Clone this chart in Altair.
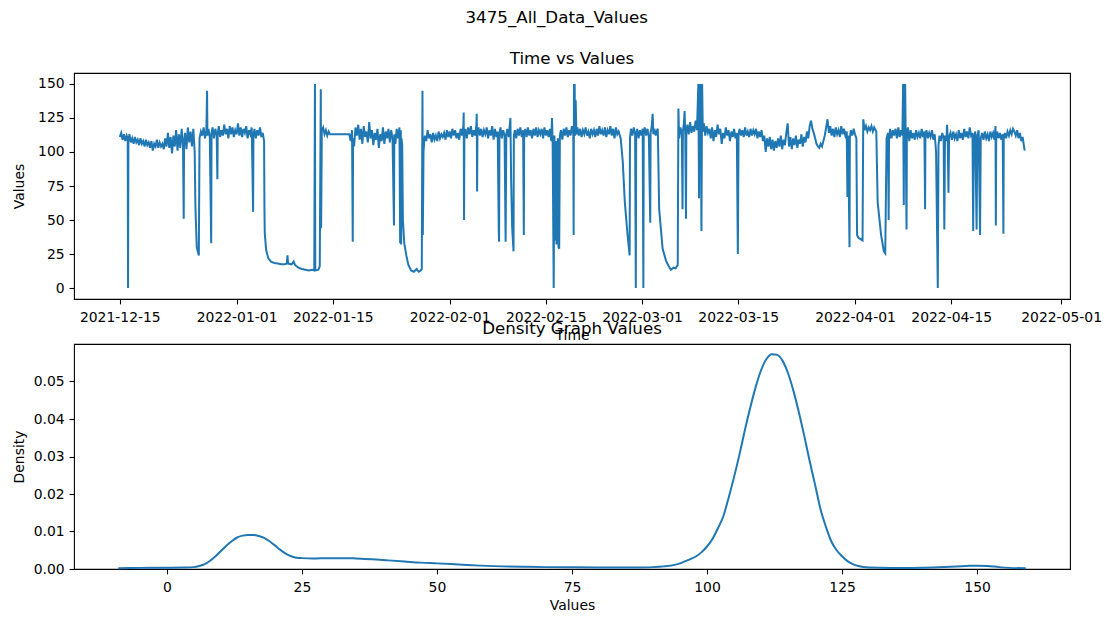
import altair as alt
import pandas as pd

# ---- time series: (days since 2021-12-15, value) ----
START = "2021-12-15"

DEC = [
    (0.0, 111), (0.2, 114), (0.4, 109), (0.6, 113), (0.8, 108), (1.0, 112), (1.15, 110), (1.2, 0),
    (1.25, 108), (1.4, 113), (1.6, 107), (1.8, 110), (2.0, 106), (2.2, 111), (2.4, 107), (2.6, 109),
    (2.8, 105), (3.0, 110), (3.2, 106), (3.4, 108), (3.6, 104), (3.8, 109), (4.0, 105), (4.2, 107),
    (4.4, 103), (4.6, 108), (4.8, 101), (5.0, 106), (5.2, 104), (5.4, 109), (5.6, 103), (5.8, 107),
    (6.0, 104), (6.2, 106), (6.4, 102), (6.6, 110), (6.8, 104), (7.0, 114), (7.2, 103), (7.4, 111),
    (7.6, 99), (7.8, 112), (8.0, 104), (8.2, 116), (8.4, 101), (8.6, 113), (8.8, 103), (9.0, 117),
    (9.2, 105), (9.3, 51), (9.35, 106), (9.5, 114), (9.7, 102), (9.9, 118), (10.1, 107), (10.3, 115),
    (10.5, 104), (10.7, 117), (10.9, 100), (11.0, 60), (11.2, 30), (11.5, 24), (11.6, 110), (11.8, 115),
    (12.0, 112), (12.2, 118), (12.4, 110), (12.6, 116), (12.7, 145), (12.75, 112), (12.9, 117),
    (13.1, 111), (13.3, 33), (13.35, 114), (13.5, 118), (13.7, 110), (13.9, 117), (14.1, 112),
    (14.2, 80), (14.25, 113), (14.4, 119), (14.6, 111), (14.8, 116), (15.0, 112), (15.2, 120),
    (15.4, 113), (15.6, 117), (15.8, 110), (16.0, 119), (16.2, 113), (16.4, 118), (16.6, 111), (16.8, 116),
]

JAN = [
    (17.0, 113), (17.2, 121), (17.4, 112), (17.6, 118), (17.8, 111), (18.0, 117), (18.2, 114),
    (18.4, 119), (18.6, 110), (18.8, 116), (19.0, 113), (19.2, 118), (19.4, 56), (19.45, 112),
    (19.6, 117), (19.8, 110), (20.0, 116), (20.2, 112), (20.4, 118), (20.6, 111), (20.8, 114),
    (21.0, 108), (21.05, 58), (21.1, 40), (21.3, 28), (21.6, 22), (22.0, 19.5), (22.5, 18.5),
    (23.0, 18), (23.5, 17.5), (24.0, 17.5), (24.3, 18), (24.4, 24), (24.5, 18), (25.0, 17.5),
    (25.3, 19.5), (25.5, 17), (26.0, 15), (26.5, 14), (27.0, 13.5), (27.5, 13), (28.0, 13.5),
    (28.3, 13), (28.4, 150), (28.45, 13), (28.9, 13.5), (29.1, 16), (29.25, 146), (29.3, 44),
    (29.4, 116), (29.6, 118), (29.8, 113), (30.0, 116), (30.2, 112), (30.4, 115), (30.6, 113),
    (30.8, 113), (33.4, 113), (33.6, 108), (33.8, 116), (33.9, 34), (33.95, 110), (34.1, 104),
    (34.3, 118), (34.5, 112), (34.7, 120), (34.9, 109), (35.1, 117), (35.3, 106), (35.5, 119),
    (35.7, 111), (35.9, 115), (36.1, 107), (36.3, 122), (36.5, 110), (36.7, 116), (36.9, 105),
    (37.1, 114), (37.3, 109), (37.5, 117), (37.7, 103), (37.9, 113), (38.1, 108), (38.3, 118),
    (38.5, 106), (38.7, 115), (38.9, 110), (39.1, 117), (39.3, 107), (39.5, 116), (39.7, 109),
    (39.9, 46), (39.95, 113), (40.1, 106), (40.3, 117), (40.5, 110), (40.7, 118), (40.8, 33),
    (40.85, 112), (40.9, 116), (40.95, 32), (41.0, 110), (41.1, 105), (41.2, 50), (41.4, 33),
    (41.7, 24), (42.0, 17), (42.4, 13), (42.8, 12), (43.2, 14), (43.5, 12), (43.8, 13), (43.95, 14),
    (44.05, 145), (44.1, 39), (44.2, 100), (44.3, 108), (44.4, 112), (44.6, 108), (44.8, 116),
    (45.0, 110), (45.2, 113), (45.4, 107), (45.6, 114), (45.8, 109), (46.0, 112), (46.2, 108),
    (46.4, 115), (46.6, 110), (46.8, 113), (47.0, 111), (47.2, 114), (47.4, 109), (47.6, 116),
]

FEB = [
    (47.8, 111), (48.0, 115), (48.2, 110), (48.4, 117), (48.6, 112), (48.8, 116), (49.0, 110),
    (49.2, 114), (49.4, 109), (49.6, 117), (49.8, 112), (50.0, 119), (50.05, 129), (50.1, 50),
    (50.15, 112), (50.3, 117), (50.5, 110), (50.7, 118), (50.9, 113), (51.1, 119), (51.3, 111),
    (51.5, 116), (51.7, 112), (51.9, 120), (51.95, 128), (52.0, 71), (52.05, 113), (52.2, 118),
    (52.4, 112), (52.6, 117), (52.8, 111), (53.0, 116), (53.2, 113), (53.4, 118), (53.6, 110),
    (53.8, 116), (54.0, 112), (54.2, 119), (54.4, 109), (54.6, 117), (54.8, 111), (55.0, 115),
    (55.15, 43), (55.2, 34), (55.25, 112), (55.4, 118), (55.6, 110), (55.8, 116), (56.0, 112),
    (56.15, 34), (56.25, 113), (56.4, 117), (56.6, 111), (56.85, 125), (56.95, 80), (57.1, 45),
    (57.3, 27), (57.35, 112), (57.5, 116), (57.7, 110), (57.9, 117), (58.1, 112), (58.3, 118),
    (58.5, 111), (58.7, 116), (58.8, 39), (58.85, 113), (59.0, 117), (59.2, 111), (59.4, 118),
    (59.6, 112), (59.8, 116), (60.0, 110), (60.2, 117), (60.4, 112), (60.6, 118), (60.8, 111),
    (61.0, 116), (61.2, 113), (61.4, 117), (61.6, 110), (61.8, 118), (62.0, 112), (62.2, 116),
    (62.4, 111), (62.6, 117), (62.8, 108), (62.9, 125), (63.0, 105), (63.15, 0), (63.25, 112),
    (63.35, 35), (63.45, 108), (63.55, 32), (63.65, 40), (63.75, 110), (63.85, 30), (63.95, 29),
    (64.05, 112), (64.2, 116), (64.4, 109), (64.6, 117), (64.8, 112), (65.0, 118), (65.2, 111),
    (65.4, 116), (65.6, 112), (65.8, 119), (66.0, 113), (66.05, 39), (66.1, 150), (66.15, 118),
    (66.2, 150), (66.25, 112), (66.35, 138), (66.45, 113), (66.6, 118), (66.8, 112), (67.0, 117),
    (67.2, 111), (67.4, 116), (67.6, 113), (67.8, 118), (68.0, 112), (68.2, 115), (68.4, 110),
    (68.6, 117), (68.8, 113), (69.0, 116), (69.2, 111), (69.4, 117), (69.6, 112), (69.8, 119),
    (70.0, 113), (70.2, 116), (70.4, 112), (70.6, 118), (70.8, 111), (71.0, 116), (71.2, 113),
    (71.4, 119), (71.6, 112), (71.8, 117), (72.0, 110), (72.2, 118), (72.4, 113), (72.6, 115),
    (72.9, 110), (73.2, 93), (73.5, 63), (73.9, 39), (74.2, 24), (74.25, 110), (74.4, 117),
    (74.6, 112), (74.8, 118), (75.0, 113), (75.1, 0), (75.15, 112), (75.3, 117), (75.5, 110),
    (75.7, 116), (75.9, 112), (76.1, 117), (76.2, 0), (76.25, 113),
]

MAR = [
    (76.4, 118), (76.6, 112), (76.8, 117), (77.0, 111), (77.2, 48), (77.25, 114), (77.4, 118),
    (77.55, 128), (77.65, 113), (77.8, 117), (78.0, 112), (78.2, 116), (78.3, 117), (78.5, 58),
    (79.0, 29), (79.5, 20), (79.9, 16), (80.2, 13.5), (80.6, 15), (80.9, 14.5), (81.2, 17),
    (81.3, 132), (81.4, 110), (81.6, 118), (81.8, 113), (81.9, 58), (81.95, 115), (82.1, 121),
    (82.2, 130), (82.3, 112), (82.4, 51), (82.45, 114), (82.6, 120), (82.8, 113), (83.0, 122),
    (83.2, 114), (83.4, 119), (83.6, 115), (83.8, 123), (84.0, 116), (84.2, 150), (84.3, 66),
    (84.35, 150), (84.45, 118), (84.55, 150), (84.65, 42), (84.75, 150), (84.85, 115), (85.0, 121),
    (85.2, 112), (85.4, 119), (85.6, 114), (85.8, 117), (86.0, 110), (86.2, 118), (86.4, 108),
    (86.6, 116), (86.8, 111), (87.0, 120), (87.2, 113), (87.4, 117), (87.6, 106), (87.8, 114),
    (88.0, 110), (88.2, 118), (88.4, 112), (88.6, 116), (88.8, 108), (89.0, 115), (89.2, 111),
    (89.4, 117), (89.6, 110), (89.8, 114), (89.95, 25), (90.05, 113), (90.2, 117), (90.4, 112),
    (90.6, 116), (90.8, 111), (91.0, 118), (91.2, 112), (91.4, 115), (91.6, 111), (91.8, 117),
    (92.0, 112), (92.2, 116), (92.4, 113), (92.6, 117), (92.8, 110), (93.0, 115), (93.2, 111),
    (93.4, 116), (93.6, 108), (93.8, 112), (94.0, 100), (94.2, 110), (94.4, 104), (94.6, 111),
    (94.8, 102), (95.0, 109), (95.2, 101), (95.4, 108), (95.6, 103), (95.8, 110), (96.0, 104),
    (96.2, 112), (96.4, 102), (96.6, 109), (96.8, 105), (97.0, 114), (97.2, 121), (97.4, 104),
    (97.6, 111), (97.8, 102), (98.0, 110), (98.2, 105), (98.4, 112), (98.6, 103), (98.8, 109),
    (99.0, 106), (99.2, 113), (99.4, 104), (99.6, 111), (99.8, 107), (100.0, 115), (100.2, 110),
    (100.4, 119), (100.6, 123), (100.8, 117), (101.0, 114), (101.2, 110), (101.4, 106), (101.6, 104),
    (101.8, 103), (102.0, 106), (102.2, 104), (102.4, 108), (102.6, 112), (102.8, 118), (103.0, 124),
    (103.2, 114), (103.4, 119), (103.6, 112), (103.8, 117), (104.0, 111), (104.2, 118), (104.4, 113),
    (104.6, 116), (104.8, 111), (105.0, 119), (105.2, 113), (105.4, 117), (105.6, 112), (105.8, 115),
    (105.9, 67), (106.0, 112), (106.2, 30), (106.25, 110), (106.4, 116), (106.6, 112), (106.8, 117),
    (107.0, 113), (107.2, 110), (107.3, 39), (107.5, 37), (107.8, 36), (108.1, 35),
]

APR = [
    (108.2, 124), (108.4, 116), (108.6, 119), (108.8, 115), (109.0, 118), (109.2, 116), (109.4, 119),
    (109.6, 115), (109.8, 118), (110.0, 116), (110.1, 115), (110.3, 63), (110.8, 39), (111.2, 27),
    (111.4, 25.5), (111.6, 110), (111.8, 114), (111.9, 50), (111.95, 108), (112.1, 117), (112.3, 110),
    (112.5, 116), (112.7, 112), (112.9, 117), (113.1, 110), (113.3, 118), (113.5, 111), (113.7, 116),
    (113.9, 112), (114.0, 150), (114.1, 61), (114.15, 150), (114.25, 108), (114.3, 150), (114.4, 100),
    (114.5, 43), (114.55, 112), (114.7, 118), (114.9, 108), (115.1, 116), (115.3, 110), (115.5, 114),
    (115.7, 109), (115.9, 116), (116.1, 111), (116.3, 114), (116.5, 110), (116.7, 117), (116.9, 111),
    (117.1, 115), (117.2, 58), (117.25, 112), (117.4, 116), (117.6, 110), (117.8, 114), (118.0, 111),
    (118.2, 116), (118.4, 109), (118.6, 113), (118.8, 100), (119.05, 0), (119.15, 105), (119.3, 112),
    (119.5, 108), (119.7, 114), (119.9, 110), (120.0, 43), (120.1, 112), (120.3, 108), (120.4, 120),
    (120.5, 110), (120.6, 70), (120.7, 111), (120.9, 114), (121.1, 109), (121.3, 115), (121.5, 110),
    (121.7, 113), (121.9, 108), (122.1, 116), (122.3, 110), (122.5, 114), (122.7, 109), (122.9, 117),
    (123.1, 111), (123.3, 115), (123.5, 110), (123.7, 118), (123.9, 112), (124.1, 114), (124.2, 42),
    (124.3, 110), (124.5, 115), (124.7, 43), (124.8, 112), (125.0, 116), (125.2, 39), (125.3, 110),
    (125.5, 114), (125.7, 109), (125.9, 115), (126.1, 110), (126.3, 113), (126.5, 108), (126.7, 115),
    (126.9, 111), (127.1, 114), (127.3, 109), (127.45, 119), (127.5, 46), (127.55, 110), (127.7, 115),
    (127.9, 110), (128.1, 114), (128.3, 109), (128.5, 113), (128.6, 40), (128.65, 110), (128.8, 114),
    (129.0, 110), (129.2, 115), (129.4, 112), (129.6, 116), (129.8, 113), (130.0, 117), (130.2, 115),
    (130.4, 112), (130.6, 116), (130.8, 110), (131.0, 114), (131.2, 108), (131.4, 111), (131.6, 104),
    (131.7, 101),
]

# ---- density curve ----
DENS_X = [-9, -5, 0, 3, 5, 6, 7, 8, 9, 10, 11, 12, 13, 14, 15, 16, 17, 18, 19, 20, 21, 22, 23, 24,
          25, 27, 30, 33, 35, 38, 41, 44, 47, 50, 54, 58, 62, 66, 70, 75, 80, 85, 88, 90, 92, 94,
          95, 96, 97, 98, 99, 100, 101, 102, 103, 104, 105, 106, 107, 108, 109, 110, 111, 112, 113,
          114, 115, 116, 117, 118, 119, 120, 121, 122, 123, 124, 125, 126, 127, 128, 130, 134, 138,
          142, 145, 148, 150, 152, 154, 156, 159]
DENS_Y = [0.0002, 0.0003, 0.00035, 0.0004, 0.0005, 0.0008, 0.0013, 0.0022, 0.0034, 0.0048, 0.0062,
          0.0074, 0.0084, 0.0089, 0.0091, 0.0091, 0.0088, 0.0083, 0.0074, 0.0063, 0.0051, 0.0041,
          0.0034, 0.0030, 0.0029, 0.0028, 0.0029, 0.0029, 0.0028, 0.0026, 0.0023, 0.0020, 0.0017,
          0.0015, 0.0012, 0.0009, 0.0007, 0.0006, 0.0005, 0.00045, 0.0004, 0.0004, 0.0004, 0.0005,
          0.0007, 0.0011, 0.0015, 0.0021, 0.0027, 0.0034, 0.0045, 0.0060, 0.0080, 0.0108, 0.0140,
          0.0190, 0.0245, 0.0305, 0.0370, 0.0430, 0.0485, 0.0530, 0.0560, 0.0573, 0.0571, 0.0555,
          0.0522, 0.0475, 0.0418, 0.0355, 0.0288, 0.0225, 0.0160, 0.0113, 0.0074, 0.0050, 0.0034,
          0.0021, 0.0013, 0.0008, 0.0004, 0.0003, 0.0003, 0.0004, 0.0006, 0.0008, 0.0009, 0.0008,
          0.0005, 0.0003, 0.0002]

TIME_TICKS = ["2021-12-15", "2022-01-01", "2022-01-15", "2022-02-01", "2022-02-15",
              "2022-03-01", "2022-03-15", "2022-04-01", "2022-04-15", "2022-05-01"]
VALUE_TICKS = [0, 25, 50, 75, 100, 125, 150]
DENS_X_TICKS = [0, 25, 50, 75, 100, 125, 150]
DENS_Y_TICKS = [0.0, 0.01, 0.02, 0.03, 0.04, 0.05]

FONT = "DejaVu Sans"
BLUE = "#1f77b4"

rows = []
base = pd.Timestamp(START)
for seg in (DEC, JAN, FEB, MAR, APR):
    for d, v in seg:
        t = base + pd.Timedelta(days=d)
        rows.append({"Time": t.strftime("%Y-%m-%dT%H:%M:%S"), "Values": v})
ts = pd.DataFrame(rows)


def dt(s, hours=0):
    y, m, d = (int(p) for p in s.split("-"))
    return alt.DateTime(year=y, month=m, date=d, hours=hours)


top = alt.Chart(ts).mark_line(color=BLUE, strokeWidth=2.0, clip=True).encode(
    x=alt.X("Time:T",
            scale=alt.Scale(domain=[dt("2021-12-08", 8), dt("2022-05-02", 7)], nice=False),
            axis=alt.Axis(values=[dt(s) for s in TIME_TICKS], format="%Y-%m-%d", title="Time",
                          labelAngle=0, labelOverlap=False, labelFlush=False)),
    y=alt.Y("Values:Q",
            scale=alt.Scale(domain=[-8, 158], nice=False, zero=False),
            axis=alt.Axis(values=VALUE_TICKS, title="Values")),
    order=alt.Order("Time:T"),
).properties(width=996, height=226,
             title=alt.TitleParams("Time vs Values", offset=5))

dens = pd.DataFrame({"Values": DENS_X, "Density": DENS_Y})
bottom = alt.Chart(dens).mark_line(color=BLUE, strokeWidth=2.0, interpolate="monotone").encode(
    x=alt.X("Values:Q",
            scale=alt.Scale(domain=[-17.2, 167.2], nice=False, zero=False),
            axis=alt.Axis(values=DENS_X_TICKS, title="Values", labelFlush=False)),
    y=alt.Y("Density:Q",
            scale=alt.Scale(domain=[0, 0.06], nice=False, zero=False),
            axis=alt.Axis(values=DENS_Y_TICKS, format=".2f", title="Density")),
).properties(width=996, height=225,
             title=alt.TitleParams("Density Graph Values", offset=6))

chart = alt.vconcat(
    top, bottom, spacing=-24,
    title=alt.TitleParams("3475_All_Data_Values", anchor="middle", offset=24),
).properties(
    padding={"left": 11, "top": 10, "right": 5, "bottom": 5},
    background="white",
).configure_view(
    stroke="black", strokeWidth=1.1
).configure_axis(
    domain=False, grid=False, tickColor="black", tickSize=4.9, tickWidth=1.1,
    labelColor="black", labelFont=FONT, labelFontSize=13.9, labelPadding=5,
    titleColor="black", titleFont=FONT, titleFontSize=13.9, titleFontWeight="normal",
    titlePadding=4,
).configure_axisX(
    labelPadding=7
).configure_axisY(
    minExtent=44, maxExtent=44
).configure_title(
    font=FONT, fontSize=16.7, fontWeight="normal", color="black", anchor="middle"
)

chart.save("out.html", embed_options={"renderer": "svg", "actions": False})
